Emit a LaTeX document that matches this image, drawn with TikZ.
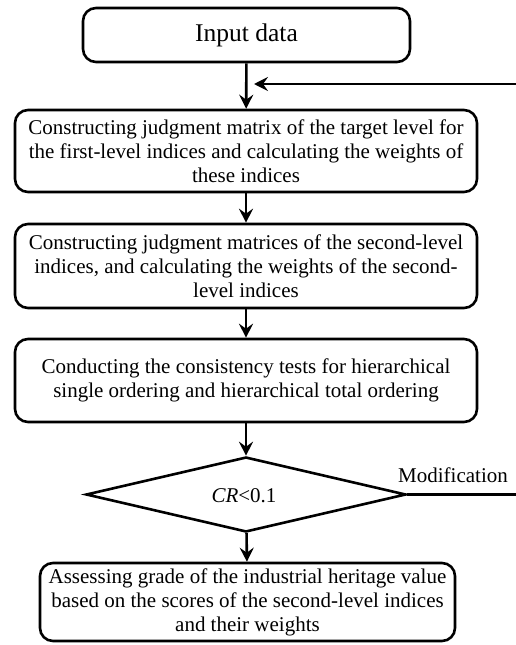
\documentclass[tikz,border=0pt]{standalone}
\usepackage{fontspec}
\setmainfont{Liberation Serif}
\usetikzlibrary{shapes.geometric,arrows.meta}
\begin{document}
\begin{tikzpicture}[x=1pt,y=-1pt,
  box/.style={draw,line width=2.6pt,rounded corners=13pt,inner sep=0pt,align=center,
    font=\fontsize{21}{24}\selectfont},
  flow/.style={line width=2.6pt,-{Stealth[length=14pt,width=14pt,inset=5pt]}},
  plain/.style={line width=2.6pt}]
\useasboundingbox (0,0) rectangle (516,645);
\node[box,minimum width=327pt,minimum height=54pt,font=\fontsize{25.5}{28}\selectfont] (in) at (246.5,35) {Input data};
\node[box,minimum width=462pt,minimum height=82pt] (b1) at (246,151)
  {Constructing judgment matrix of the target level for\\the first-level indices and calculating the weights of\\these indices};
\node[box,minimum width=462pt,minimum height=84pt] (b2) at (246,266)
  {Constructing judgment matrices of the second-level\\indices, and calculating the weights of the second-\\level indices};
\node[box,minimum width=462pt,minimum height=83pt] (b3) at (246,380.5)
  {Conducting the consistency tests for hierarchical\\single ordering and hierarchical total ordering};
\node[draw,diamond,line width=2.6pt,inner sep=0pt,minimum width=320pt,minimum height=75pt,
  font=\fontsize{21}{24}\selectfont] (dia) at (246,494.5) {};
\node[font=\fontsize{21}{24}\selectfont] (cr) at (244,496) {\textit{CR}<0.1};
\node[box,minimum width=415pt,minimum height=78pt] (b4) at (247.5,602)
  {Assessing grade of the industrial heritage value\\based on the scores of the second-level indices\\and their weights};
\node[anchor=base west,inner sep=0pt,font=\fontsize{21}{24}\selectfont] (mod) at (398,482) {Modification};
\coordinate (fbR) at (517,494.5);
\coordinate (fbT) at (517,84);
\coordinate (fbEnd) at (254,84);
\draw[flow] (in) -- (b1);
\draw[flow] (b1) -- (b2);
\draw[flow] (b2) -- (b3);
\draw[flow] (b3) -- (dia);
\draw[flow] (dia) -- (b4);
\draw[plain] (dia.east) -- (fbR);
\draw[flow] (fbT) -- (fbEnd);
\end{tikzpicture}
\end{document}
